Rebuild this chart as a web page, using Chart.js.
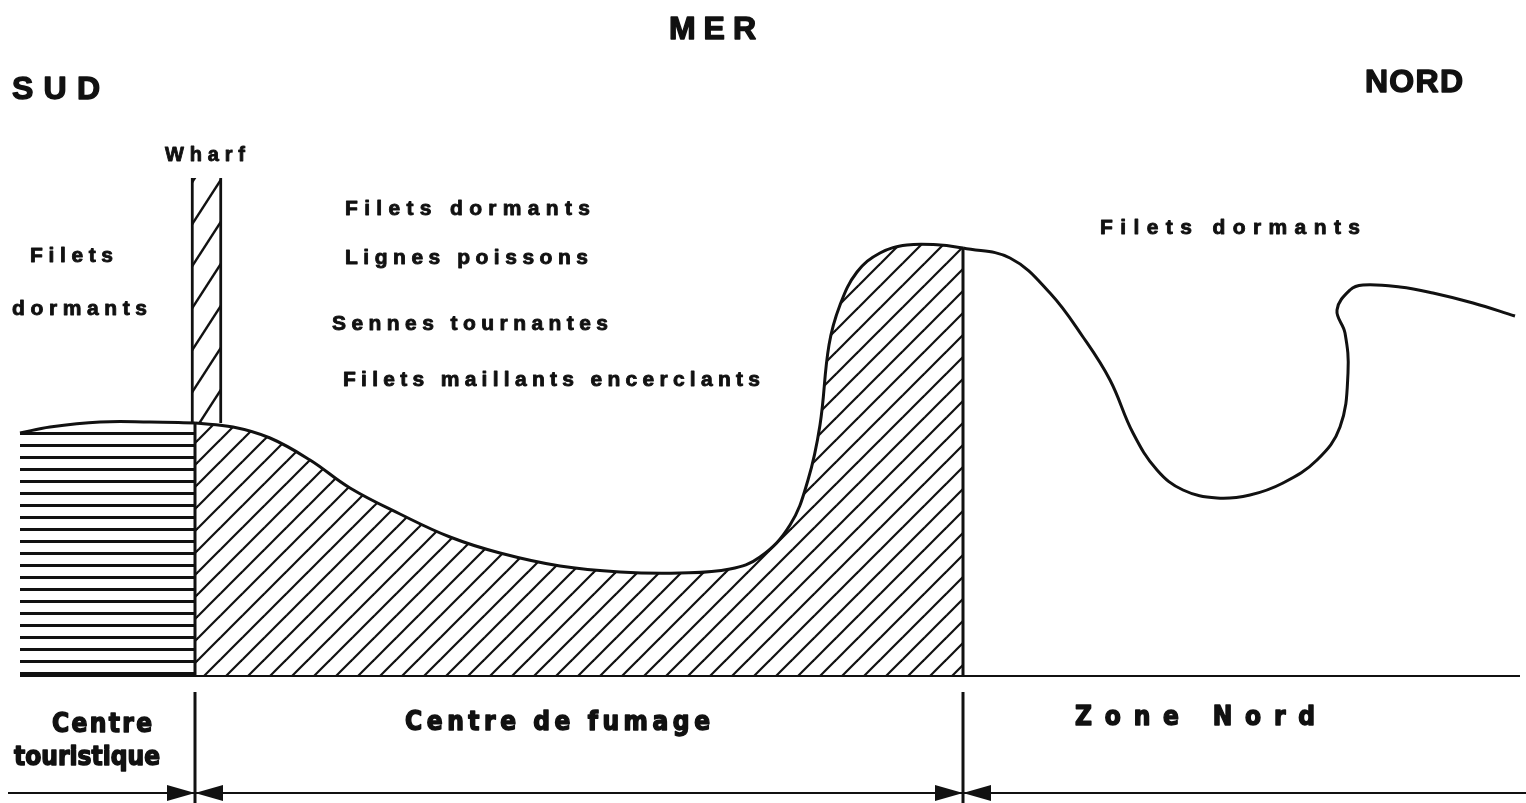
<!DOCTYPE html>
<html>
<head>
<meta charset="utf-8">
<title>Mer - zones de pêche</title>
<script src="https://cdn.jsdelivr.net/npm/chart.js@4.4.1/dist/chart.umd.min.js"></script>
<style>
body { margin: 0; background: #fff; }
#wrap { width: 1526px; height: 803px; }
</style>
</head>
<body>
<div id="wrap"><canvas id="coast" width="1526" height="803"></canvas></div>
<script>
var coastSud = [[20,433],[50,427],[100,422],[150,422],[195,423]];
var coastCentre = [[195,423],[233,427],[270,438],[310,460],[350,488],[400,514],[450,537],[500,553],
    [560,566],[620,572],[680,573],[730,569],[760,557],[790,525],[808,480],[820,425],[829,345],
    [840,305],[857,272],[880,253],[907,245],[940,245],[963,248]];
var coastNord = [[963,248],[1010,258],[1050,293],[1083,337],[1110,380],[1133,433],[1157,470],
    [1183,490],[1217,498],[1250,495],[1283,483],[1317,460],[1340,427],[1348,373],[1345,333],
    [1337,310],[1350,290],[1363,285],[1400,287],[1433,293],[1473,303],[1515,316]];
var seaLevel = 676;
var wharfX = [191, 222];
var wharfY = [178, 423];
var zoneBounds = [195, 963];

var labelTexts = ['MER', 'SUD', 'NORD', 'Wharf', 'Filets dormants', 'Lignes poissons',
    'Sennes tournantes', 'Filets maillants encerclants', 'Filets', 'dormants', 'Filets dormants',
    'Centre', 'touristique', 'Centre de fumage', 'Zone Nord'];

var ink = '#111';

// placement des textes : x gauche, ligne de base, largeur, taille, narrow
var labelLayout = [
    [669, 39, 87, 32, 0], [12, 99, 88, 32, 0], [1365, 92, 98, 32, 0], [165, 161, 80, 20, 0],
    [345, 215, 245, 21, 0], [345, 264, 243, 21, 0], [332, 330, 276, 21, 0], [343, 386, 417, 21, 0],
    [30, 262, 83, 21, 0], [12, 315, 135, 21, 0], [1100, 234, 260, 21, 0],
    [52, 732, 100, 26, 1], [14, 765, 146, 26, 1], [405, 730, 305, 26, 1], [1075, 725, 240, 26, 1]
];

function toPoints(arr) {
    return arr.map(function(p) { return { x: p[0], y: p[1] }; });
}

function makeTile(w, h, draw) {
    var c = document.createElement('canvas');
    c.width = w; c.height = h;
    var g = c.getContext('2d');
    g.fillStyle = '#fff';
    g.fillRect(0, 0, w, h);
    g.strokeStyle = ink;
    g.fillStyle = ink;
    draw(g, w, h);
    return c;
}

var probe = document.createElement('canvas').getContext('2d');

// bandes horizontales du centre touristique
var hTile = makeTile(8, 12, function(g, w) { g.fillRect(0, 0, w, 3); });
var hPattern = probe.createPattern(hTile, 'repeat');

// hachures obliques du centre de fumage
var dTile = makeTile(22, 22, function(g, w, h) {
    g.lineWidth = 2.2;
    for (var k = 0; k < 3; k++) {
        g.beginPath();
        g.moveTo(-w, (k + 1) * h);
        g.lineTo(2 * w, (k - 2) * h);
        g.stroke();
    }
});
var dPattern = probe.createPattern(dTile, 'repeat');

// hachures du wharf
var wTile = makeTile(31, 42, function(g, w, h) {
    g.lineWidth = 2.4;
    for (var k = -1; k < 2; k++) {
        g.beginPath();
        g.moveTo(0, 48 + k * h);
        g.lineTo(w, k * h);
        g.stroke();
    }
});
var wPattern = probe.createPattern(wTile, 'repeat');
wPattern.setTransform(new DOMMatrix([1, 0, 0, 1, wharfX[0], wharfY[0]]));

// texte espace pour tenir dans la largeur, un peu epaissi
function spacedText(ctx, text, x, y, width) {
    var chars = text.split('');
    var natural = 0;
    chars.forEach(function(ch) { natural += ctx.measureText(ch).width; });
    var extra = chars.length > 1 ? (width - natural) / (chars.length - 1) : 0;
    var cx = x;
    chars.forEach(function(ch) {
        ctx.fillText(ch, cx, y);
        ctx.strokeText(ch, cx, y);
        cx += ctx.measureText(ch).width + extra;
    });
}

var sketchPlugin = {
    id: 'sketch',
    afterDatasetsDraw: function(chart) {
        var ctx = chart.ctx, xs = chart.scales.x, ys = chart.scales.y;
        ctx.save();
        ctx.strokeStyle = ink;
        ctx.fillStyle = ink;

        // ligne des zones et fleches
        var yArrow = ys.getPixelForValue(793);
        ctx.lineWidth = 2;
        ctx.beginPath();
        ctx.moveTo(xs.getPixelForValue(8), yArrow);
        ctx.lineTo(xs.getPixelForValue(1526), yArrow);
        ctx.stroke();
        zoneBounds.forEach(function(b) {
            var px = xs.getPixelForValue(b);
            ctx.lineWidth = 3;
            ctx.beginPath();
            ctx.moveTo(px, ys.getPixelForValue(692));
            ctx.lineTo(px, ys.getPixelForValue(803));
            ctx.stroke();
            [-1, 1].forEach(function(side) {
                ctx.beginPath();
                ctx.moveTo(px, yArrow);
                ctx.lineTo(px + side * 28, yArrow - 8);
                ctx.lineTo(px + side * 28, yArrow + 8);
                ctx.closePath();
                ctx.fill();
            });
        });

        // textes
        ctx.textBaseline = 'alphabetic';
        ctx.lineJoin = 'round';
        labelTexts.forEach(function(t, i) {
            var l = labelLayout[i];
            ctx.font = l[4] ? 'bold ' + l[3] + 'px "Liberation Sans Narrow", "DejaVu Sans Condensed", sans-serif'
                            : 'bold ' + l[3] + 'px "Liberation Sans", Arial, sans-serif';
            ctx.lineWidth = l[3] > 25 ? 1.4 : 0.9;
            spacedText(ctx, t, xs.getPixelForValue(l[0]), ys.getPixelForValue(l[1]), l[2]);
        });
        ctx.restore();
    }
};

var lineStyle = { borderColor: ink, borderWidth: 3, pointRadius: 0, tension: 0.4 };

new Chart(document.getElementById('coast'), {
    type: 'line',
    data: {
        datasets: [
            Object.assign({ label: 'Centre touristique', data: toPoints(coastSud),
                fill: { value: seaLevel }, backgroundColor: hPattern, order: 1 }, lineStyle),
            Object.assign({ label: 'Centre de fumage', data: toPoints(coastCentre),
                fill: { value: seaLevel }, backgroundColor: dPattern, order: 1 }, lineStyle),
            Object.assign({ label: 'Zone Nord', data: toPoints(coastNord), fill: false, order: 1 }, lineStyle),
            { label: 'limite sud', data: [{ x: zoneBounds[0], y: coastSud[coastSud.length - 1][1] }, { x: zoneBounds[0], y: seaLevel }],
              borderColor: ink, borderWidth: 3, pointRadius: 0, tension: 0, fill: false, order: 0 },
            { label: 'limite nord', data: [{ x: zoneBounds[1], y: coastCentre[coastCentre.length - 1][1] }, { x: zoneBounds[1], y: seaLevel }],
              borderColor: ink, borderWidth: 3, pointRadius: 0, tension: 0, fill: false, order: 0 },
            { label: 'rivage', data: [{ x: coastSud[0][0], y: seaLevel }, { x: coastNord[coastNord.length - 1][0] + 5, y: seaLevel }],
              borderColor: ink, borderWidth: 2, pointRadius: 0, tension: 0, fill: false, order: 0 },
            { type: 'bar', label: 'Wharf',
              data: [{ x: (wharfX[0] + wharfX[1]) / 2, y: [wharfY[0], wharfY[1]] }],
              barThickness: wharfX[1] - wharfX[0], backgroundColor: wPattern, borderColor: ink,
              borderWidth: { left: 3, right: 3, top: 0, bottom: 0 }, borderSkipped: false, order: 3 }
        ]
    },
    options: {
        responsive: false,
        animation: false,
        layout: { padding: 0 },
        plugins: { legend: { display: false }, tooltip: { enabled: false } },
        scales: {
            x: { type: 'linear', min: 0, max: 1526, offset: false, display: false },
            y: { type: 'linear', min: 0, max: 803, reverse: true, display: false }
        }
    },
    plugins: [sketchPlugin]
});
</script>
</body>
</html>
